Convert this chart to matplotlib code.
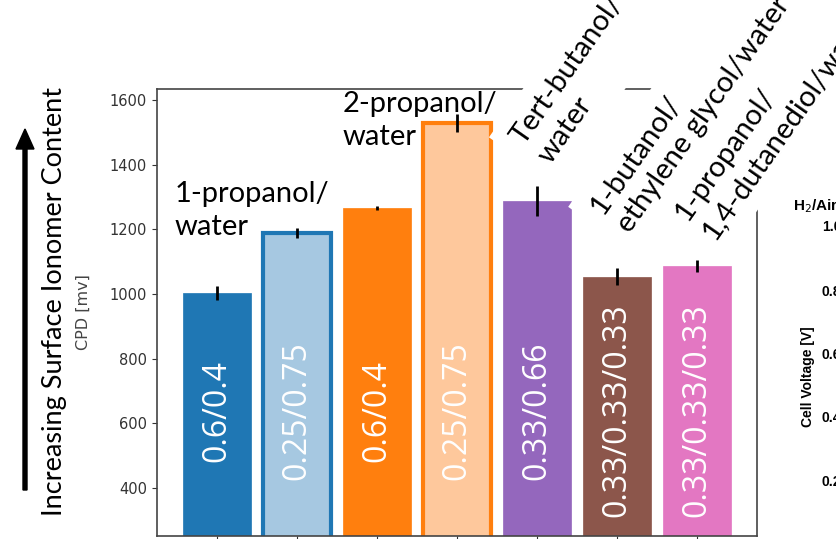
import numpy as np
import matplotlib.pyplot as plt
from matplotlib.patches import FancyArrow

# CPD per solvent system (mV) and spread
solvents = ["1-propanol/\nwater", "1-propanol/\nwater", "2-propanol/\nwater", "2-propanol/\nwater",
            "Tert-butanol/\nwater", "1-butanol/\nethylene glycol/water",
            "1-propanol/\n1,4-dutanediol/water"]
ratios = ["0.6/0.4", "0.25/0.75", "0.6/0.4", "0.25/0.75",
          "0.33/0.66", "0.33/0.33/0.33", "0.33/0.33/0.33"]
cpd = [1004, 1189, 1267, 1530, 1287, 1054, 1087]
cpd_err = [22, 15, 6, 28, 47, 27, 19]

face = ["#1f77b4", "#a6c8e1", "#ff7f0e", "#fec89c", "#9467bd", "#8c564b", "#e377c2"]
edge = ["#1f77b4", "#1f77b4", "#ff7f0e", "#ff7f0e", "#9467bd", "#8c564b", "#e377c2"]
lw = [0.5, 3, 0.5, 3, 0.5, 0.5, 0.5]

# neighbouring polarisation plot (only its edge is shown)
pol_ticks = ["1.0", "0.8", "0.6", "0.4", "0.2"]

W, H = 836, 539
fig = plt.figure(figsize=(W/100, H/100), dpi=100)
ax = fig.add_axes([156.7/W, 3/H, (757-156.7)/W, (536-89)/H])

x = np.arange(len(cpd))
ax.bar(x, cpd, width=0.85, color=face, edgecolor=edge, linewidth=lw, zorder=2)
ax.errorbar(x, cpd, yerr=cpd_err, fmt="none", ecolor="black", elinewidth=2, capsize=0, zorder=3)

for xi, r in zip(x, ratios):
    ax.text(xi, 640, r, rotation=90, ha="center", va="center", color="white",
            fontsize=23, family="Open Sans", zorder=4)

ax.set_xlim(-0.75, 6.75)
ax.set_ylim(252, 1634)
ax.set_yticks([400, 600, 800, 1000, 1200, 1400, 1600])
ax.set_xticks(x)
ax.set_xticklabels([])
ax.tick_params(labelsize=10.5, labelcolor="#333333", color="#333333")
for s in ax.spines.values():
    s.set_color("#444444")
    s.set_linewidth(1.2)

# solvent names
ax.text(-0.525, 1351, solvents[0], ha="left", va="top", fontsize=21, family="Lato",
        linespacing=1.35, zorder=5)
ax.text(1.575, 1628, solvents[2], ha="left", va="top", fontsize=21, family="Lato",
        linespacing=1.35, zorder=5)
for xp, yp, name in [(4.22, 1390, solvents[4]), (5.21, 1175, solvents[5]), (6.27, 1155, solvents[6])]:
    ax.text(xp, yp, name, rotation=55, rotation_mode="anchor", ha="left", va="bottom",
            fontsize=21, family="Lato", linespacing=1.32, clip_on=False, zorder=5,
            bbox=dict(facecolor="white", edgecolor="none", pad=9))

fig.text(83/W, 1 - 312/H, "CPD [mv]", rotation=90, ha="center", va="center",
         fontsize=11.5, color="#444444")

# arrow and label on the far left
fig.text(55/W, 1 - 301/H, "Increasing Surface Ionomer Content", rotation=90,
         ha="center", va="center", fontsize=19.5, family="Lato")
fig.patches.append(FancyArrow(
    25/W, 1 - 490/H, 0, (490-129-20)/H, width=4/W, head_width=18/W, head_length=20/H,
    length_includes_head=False, color="black", transform=fig.transFigure))

# polarisation plot edge
fig.text(793/W, 1 - 206/H, "H$_2$/Air", ha="left", va="center", fontsize=11,
         family="Liberation Sans", weight="bold")
for t, yp in zip(pol_ticks, [227, 292, 355, 418, 482]):
    fig.text(822/W, 1 - yp/H, t, ha="left", va="center", fontsize=10,
             family="Liberation Sans", weight="bold")
fig.text(808/W, 1 - 377/H, "Cell Voltage [V]", rotation=90, ha="center", va="center",
         fontsize=10, family="Liberation Sans", weight="bold")

fig.savefig("out.png", dpi=100)
